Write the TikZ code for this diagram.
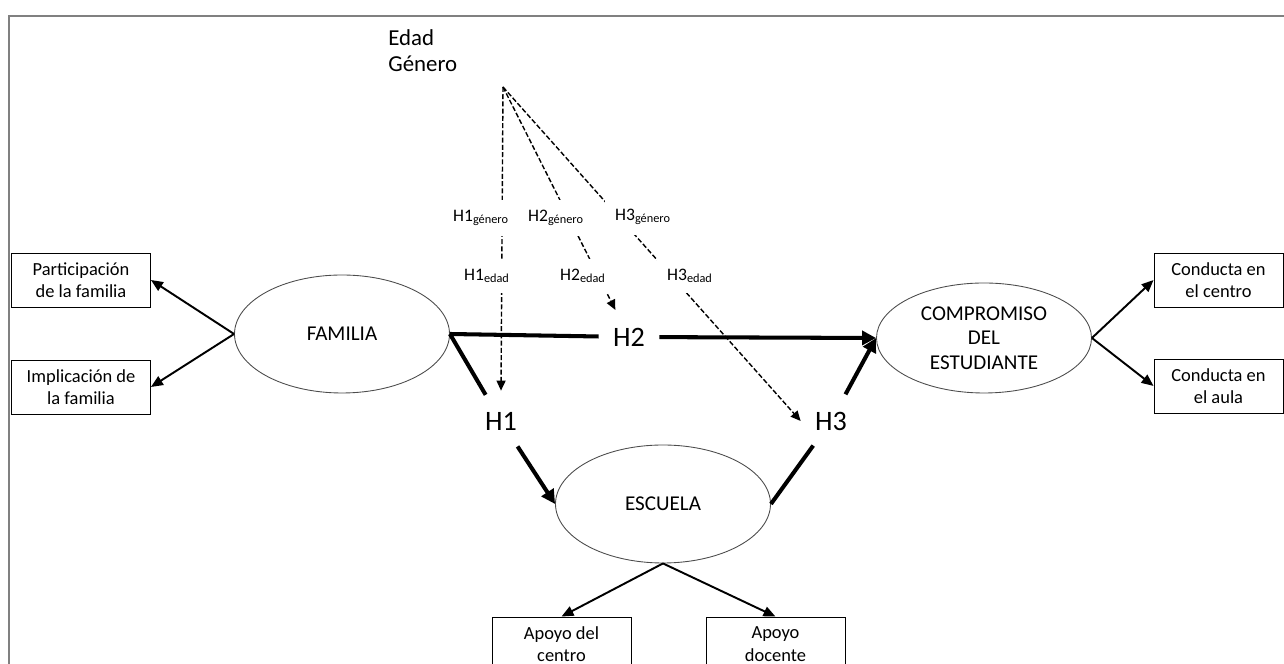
\documentclass[tikz,border=0pt]{standalone}
\usepackage{fontspec}
\setmainfont{Carlito}
\usetikzlibrary{arrows.meta, shapes.geometric}

\begin{document}
\begin{tikzpicture}[x=0.2mm, y=-0.2mm,
    latent/.style={ellipse, draw=black!70, line width=0.5pt, align=center,
      minimum width=43mm, minimum height=23.6mm, inner sep=0pt,
      font=\fontsize{12}{14}\selectfont},
    indic/.style={rectangle, draw, line width=0.5pt, align=center,
      minimum width=27.8mm, minimum height=10.8mm, inner sep=0pt,
      font=\fontsize{10.5}{12.7}\selectfont},
    hyp/.style={circle, minimum size=12mm, inner sep=0pt,
      font=\fontsize{16}{18}\selectfont},
    modlab/.style={fill=white, inner sep=2mm, font=\fontsize{10}{12}\selectfont},
    loading/.style={line width=1.1pt, -{Triangle[length=2.4mm, width=2mm]}},
    effect/.style={line width=2.3pt},
    moder/.style={line width=0.8pt, dash pattern=on 1mm off 0.45mm,
      -{Triangle[length=2mm, width=1.8mm]}}]
    \useasboundingbox (0, 0) rectangle (1284, 664);

    % frame
    \draw [gray, line width=0.4mm] (9, 664) -- (9, 16) -- (1284, 16);

    % latent variables
    \node[latent](familia) at (342, 334){FAMILIA};
    \node[latent](escuela) at (663, 504){ESCUELA};
    \node[latent, minimum height=22mm](compromiso) at (984, 338)
      {COMPROMISO\\DEL\\ESTUDIANTE};

    % indicators
    \node[indic](partic) at (81, 280){Participación\\de la familia};
    \node[indic](implic) at (81, 387){Implicación de\\la familia};
    \node[indic, minimum width=25.8mm](centro) at (1218.5, 280){Conducta en\\el centro};
    \node[indic, minimum width=25.8mm](aula) at (1218.5, 386){Conducta en\\el aula};
    \node[indic](apoyoc) at (561.5, 644){Apoyo del\\centro};
    \node[indic](apoyod) at (775.5, 644){Apoyo\\docente};

    \draw [loading] (familia.west) -- (partic.east);
    \draw [loading] (familia.west) -- (implic.east);
    \draw [loading] (compromiso.east) -- (centro.west);
    \draw [loading] (compromiso.east) -- (aula.west);
    \draw [loading] (escuela.south) -- (apoyoc.north);
    \draw [loading] (escuela.south) -- (apoyod.north);

    % hypotheses
    \node[hyp](h1) at (501, 421){H1};
    \node[hyp](h2) at (629, 337){H2};
    \node[hyp](h3) at (831, 421){H3};

    \draw [effect] (familia.east) -- (h1);
    \draw [effect, -{Triangle[length=2.8mm, width=2.8mm]}] (h1) -- (escuela.west);
    \draw [effect] (familia.east) -- (h2);
    \draw [effect, -{Triangle[length=2.8mm, width=2.8mm]}] (h2) -- (compromiso.west);
    \draw [effect] (escuela.east) -- (h3);
    \draw [effect, -{Triangle[length=2.8mm, width=2.8mm]}] (h3) -- (compromiso.west);

    % moderators
    \node[anchor=north west, align=left, inner sep=0pt,
      font=\fontsize{13}{15.2}\selectfont](edadgen) at (388, 29){Edad\\Género};
    \coordinate (mod) at (503, 87);
    \draw [moder] (mod) -- (h1.north);
    \draw [moder] (mod) -- (h2);
    \draw [moder] (mod) -- (h3.west);

    \node[modlab](h1g) at (481, 218){H1\textsubscript{género}};
    \node[modlab](h2g) at (556, 218){H2\textsubscript{género}};
    \node[modlab](h3g) at (643, 217){H3\textsubscript{género}};
    \node[modlab](h1e) at (487, 276){H1\textsubscript{edad}};
    \node[modlab](h2e) at (583, 276){H2\textsubscript{edad}};
    \node[modlab](h3e) at (690, 276){H3\textsubscript{edad}};
\end{tikzpicture}
\end{document}
